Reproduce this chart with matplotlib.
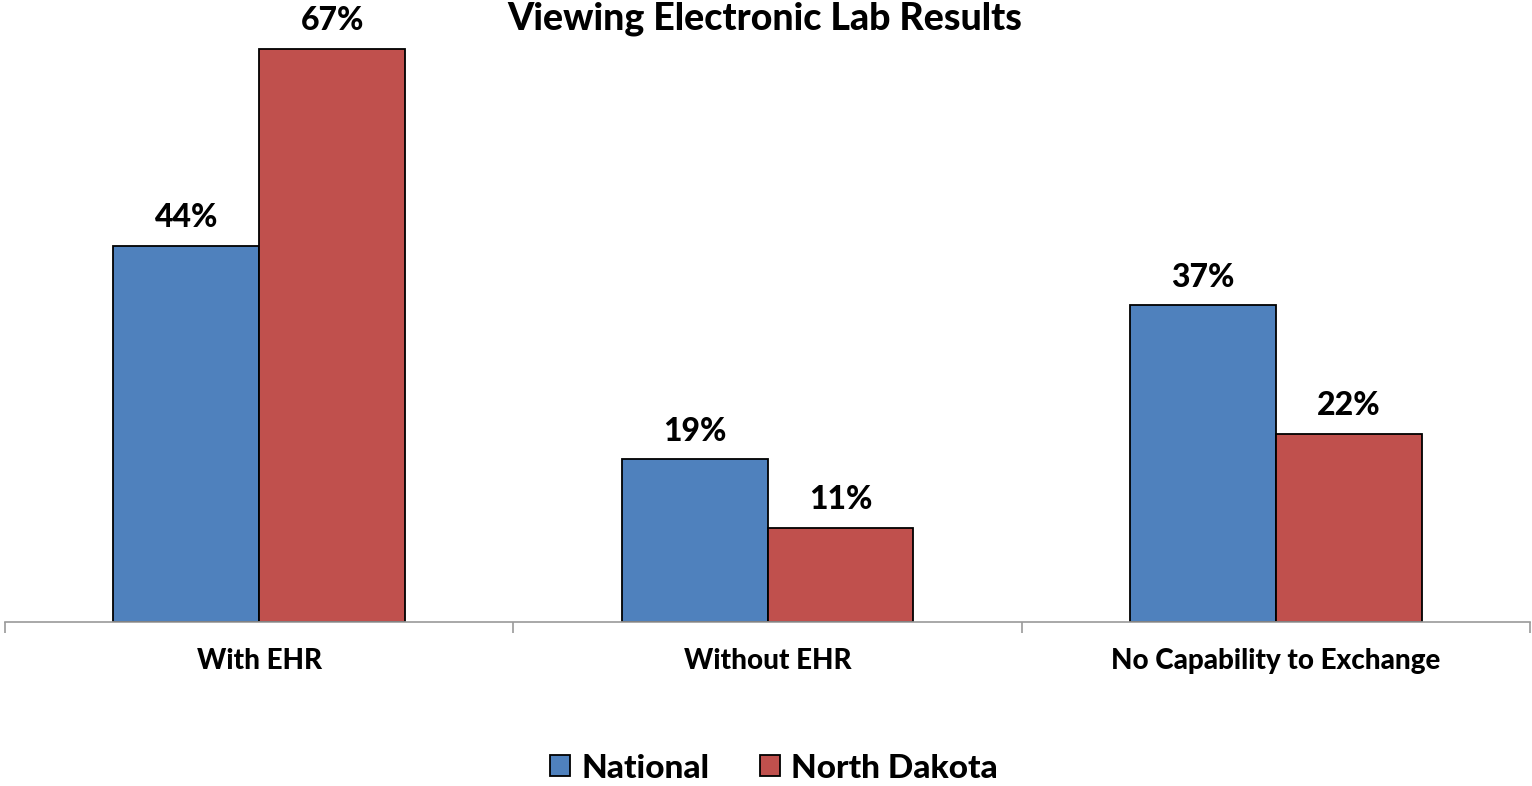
import matplotlib
matplotlib.use("Agg")
import matplotlib.pyplot as plt
import numpy as np

categories = ["With EHR", "Without EHR", "No Capability to Exchange"]
series_names = ["National", "North Dakota"]
national = [44, 19, 37]
north_dakota = [67, 11, 22]
title = "Viewing Electronic Lab Results"

plt.rcParams['font.family'] = ['Lato', 'DejaVu Sans']
fig = plt.figure(figsize=(15.32, 7.86), dpi=100)
W, H = 1532, 786
ax = fig.add_axes([5 / W, 164 / H, (1530 - 5) / W, (H - 164) / H])

x = np.arange(len(categories))
bw = 0.287
colors = ["#4F81BD", "#C0504D"]
for i, (vals, name) in enumerate(zip([national, north_dakota], series_names)):
    bars = ax.bar(x + (i - 0.5) * bw, vals, bw, color=colors[i], edgecolor="black",
                  linewidth=1.3, label=name)
    for b, v in zip(bars, vals):
        ax.annotate(f"{v}%", (b.get_x() + b.get_width() / 2, v), xytext=(0, 10),
                    textcoords="offset points", ha="center", va="bottom",
                    fontsize=23, fontweight="black")

ax.set_xlim(-0.5, 2.5)
ax.set_ylim(0, 72.7)
for s in ["top", "right", "left"]:
    ax.spines[s].set_visible(False)
ax.spines["bottom"].set_color("#9a9a9a")
ax.spines["bottom"].set_linewidth(1.2)
ax.set_yticks([])
ax.set_xticks(x)
ax.set_xticklabels(categories, fontsize=20, fontweight="black")
ax.tick_params(axis="x", which="major", length=0, pad=19)
ax.set_xticks([-0.5, 0.5, 1.5, 2.5], minor=True)
ax.tick_params(axis="x", which="minor", length=8, color="#9a9a9a", width=1.2)

fig.text(765 / W, (H - 30) / H, title, ha="center", va="baseline",
         fontsize=27, fontweight="black")

leg = fig.legend(loc="center", bbox_to_anchor=(774 / W, 1 - 768 / H), ncol=2,
                 frameon=False, prop={"size": 24, "weight": "black"},
                 handlelength=0.6, handleheight=0.6, handletextpad=0.35,
                 columnspacing=1.5)
fig.savefig("out.png", dpi=100)
